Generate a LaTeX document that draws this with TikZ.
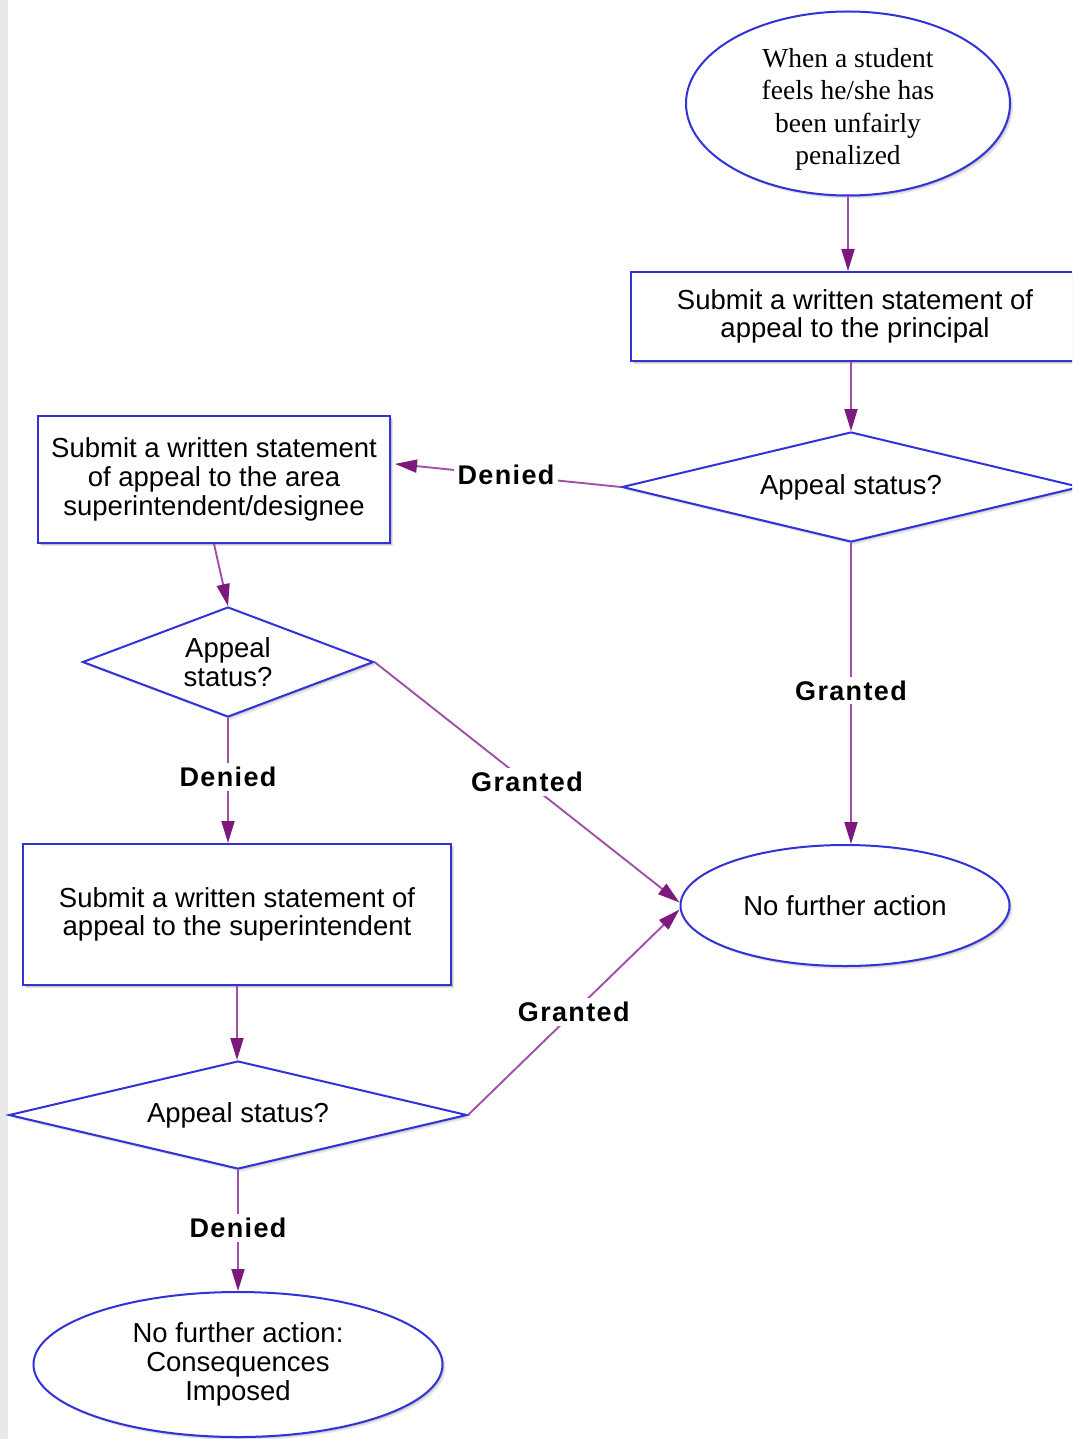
\documentclass[tikz,border=0pt]{standalone}
\usepackage{fontspec}
\setmainfont{Liberation Sans}
\newfontfamily\serifnode{Liberation Serif}
\newfontfamily\lblfont[LetterSpace=5]{Liberation Sans}
\usetikzlibrary{shapes.geometric,arrows.meta,shadows}
\definecolor{nodeblue}{RGB}{50,50,215}
\definecolor{linepurple}{RGB}{160,80,165}
\definecolor{tippurple}{RGB}{125,25,125}
\definecolor{stripgray}{RGB}{233,233,233}
\tikzset{
  shadowed/.style={drop shadow={shadow xshift=3pt,shadow yshift=-3pt,fill=black,opacity=0.10},
                   drop shadow={shadow xshift=1.5pt,shadow yshift=-1.5pt,fill=black,opacity=0.14}},
  base/.style={draw=nodeblue, line width=2pt, fill=white, inner sep=0pt, align=center,
               font=\fontsize{27.5}{28.7}\selectfont, shadowed},
  stepbox/.style={base, rectangle},
  ellipsebox/.style={base, ellipse},
  decision/.style={base, diamond},
  conn/.style={draw=linepurple, line width=1.9pt, -{Triangle[length=22pt,width=13pt,color=tippurple]}},
  lbl/.style={fill=white, inner sep=4pt, text=black, font=\lblfont\bfseries\fontsize{27}{30}\selectfont},
}
\begin{document}
\begin{tikzpicture}[x=1pt,y=-1pt]
\useasboundingbox (0,0) rectangle (1072,1439);
\clip (0,0) rectangle (1072,1439);
\fill[white] (0,0) rectangle (1072,1439);
\fill[stripgray] (0,0) rectangle (8,1439);

% nodes
\node[ellipsebox, minimum width=324pt, minimum height=184pt, inner ysep=-8pt,
      font=\serifnode\fontsize{27.5}{32.5}\selectfont] (e1) at (848,103.5)
  {\rule{0pt}{31pt}When a student\\feels he/she has\\been unfairly\\penalized};
\node[stepbox, minimum width=448pt, minimum height=89pt] (r1) at (855,316.5)
  {Submit a written statement of\\appeal to the principal};
\node[decision, shape aspect=4, minimum width=458pt, minimum height=110pt] (d1) at (851,487)
  {Appeal status?};
\node[stepbox, minimum width=352pt, minimum height=127pt] (r2) at (214,479.5)
  {Submit a written statement\\of appeal to the area\\superintendent/designee};
\node[decision, shape aspect=2.6, minimum width=291pt, minimum height=110pt] (d2) at (228,662)
  {Appeal\\status?};
\node[stepbox, minimum width=428pt, minimum height=141pt] (r3) at (237,914.5)
  {Submit a written statement of\\appeal to the superintendent};
\node[decision, shape aspect=4, minimum width=458pt, minimum height=108pt] (d3) at (238,1115)
  {Appeal status?};
\node[ellipsebox, minimum width=329pt, minimum height=121pt] (e2) at (845,905.5)
  {No further action};
\node[ellipsebox, minimum width=409pt, minimum height=145pt] (e3) at (238,1364.5)
  {No further action:\\Consequences\\Imposed};

% connectors
\draw[conn] (e1.south) -- (e1.south |- r1.north);
\draw[conn] (d1.north |- r1.south) -- (d1.north);
\draw[conn, shorten >=4pt] (d1.west) -- node[lbl]{Denied} ([yshift=16pt]r2.east);
\draw[conn] (d1.south) -- node[lbl, pos=0.49]{Granted} (d1.south |- e2.north);
\draw[conn] (r2.south) -- (d2.north);
\draw[conn] (d2.east) -- node[lbl]{Granted} ([yshift=3pt]e2.west);
\draw[conn] (d2.south) -- node[lbl, pos=0.47]{Denied} (d2.south |- r3.north);
\draw[conn] (r3.south) -- (r3.south |- d3.north);
\draw[conn] (d3.east) -- node[lbl]{Granted} ([yshift=-4pt]e2.west);
\draw[conn] (d3.south) -- node[lbl, pos=0.48]{Denied} (e3.north);
\end{tikzpicture}
\end{document}
